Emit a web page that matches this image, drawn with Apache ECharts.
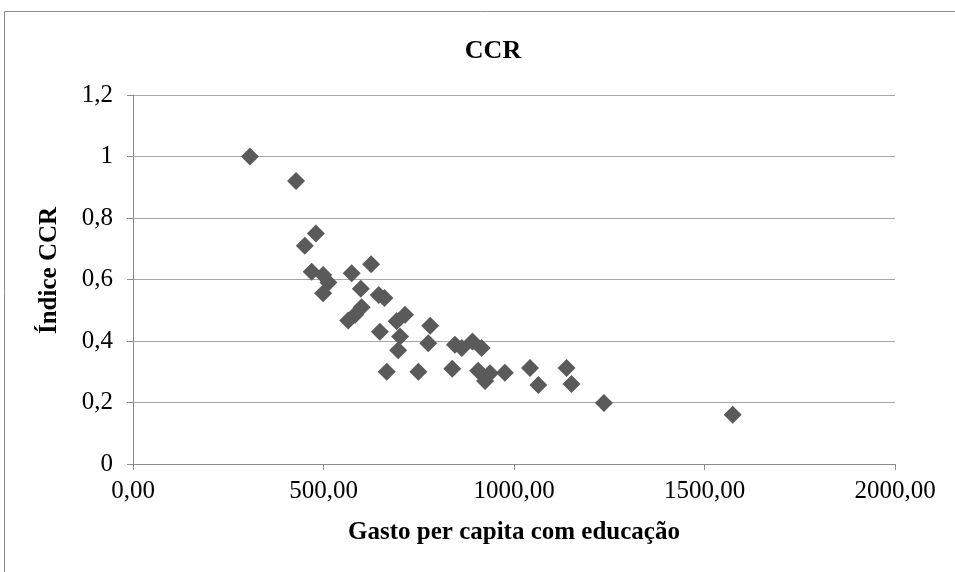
<!DOCTYPE html>
<html>
<head>
<meta charset="utf-8">
<script src="https://cdn.jsdelivr.net/npm/echarts@6/dist/echarts.min.js"></script>
<style>
  html, body { margin: 0; padding: 0; background: #fff; }
  #main { width: 955px; height: 572px; }
</style>
</head>
<body>
<div id="main"></div>
<script>
// gasto per capita com educação (x) e índice CCR (y)
const gasto = [
  307, 428, 480, 451, 469, 499, 513, 499, 574, 625,
  598, 645, 660, 600, 583, 565, 714, 692, 648, 701,
  696, 780, 775, 666, 749, 845, 863, 891, 915, 838,
  906, 924, 937, 976, 1042, 1064, 1138, 1151, 1236, 1574
];
const indiceCCR = [
  1.00, 0.92, 0.75, 0.71, 0.625, 0.615, 0.59, 0.555, 0.62, 0.65,
  0.57, 0.55, 0.54, 0.51, 0.485, 0.467, 0.485, 0.464, 0.43, 0.415,
  0.37, 0.45, 0.393, 0.30, 0.30, 0.388, 0.377, 0.398, 0.377, 0.31,
  0.303, 0.27, 0.295, 0.297, 0.312, 0.257, 0.312, 0.26, 0.198, 0.16
];

const pontos = gasto.map((g, i) => [g, indiceCCR[i]]);

const serif = "Liberation Serif, Times New Roman, serif";

const chart = echarts.init(document.getElementById("main"));

const option = {
  animation: false,
  backgroundColor: "#ffffff",
  title: {
    text: "CCR",
    left: 488,
    top: 33,
    textAlign: "center",
    textStyle: { fontFamily: serif, fontWeight: "bold", fontSize: 26, color: "#000" },
  },
  graphic: [
    {
      type: "rect",
      shape: { x: 4.5, y: 11.5, width: 1000, height: 700 },
      style: { fill: "none", stroke: "#8c8c8c", lineWidth: 1 },
      silent: true,
    },
  ],
  grid: { left: 133, right: 60, top: 95, bottom: 108 },
  xAxis: {
    type: "value",
    min: 0,
    max: 2000,
    interval: 500,
    name: "Gasto per capita com educação",
    nameLocation: "middle",
    nameGap: 56,
    nameTextStyle: { fontFamily: serif, fontWeight: "bold", fontSize: 25, color: "#000" },
    axisLine: { show: true, lineStyle: { color: "#8c8c8c" } },
    axisTick: { show: true, inside: false, length: 6, lineStyle: { color: "#8c8c8c" } },
    splitLine: { show: false },
    axisLabel: {
      fontFamily: serif,
      fontSize: 25,
      color: "#000",
      margin: 15,
      formatter: (v) => v.toFixed(2).replace(".", ","),
    },
  },
  yAxis: {
    type: "value",
    min: 0,
    max: 1.2,
    interval: 0.2,
    name: "Índice CCR",
    nameLocation: "middle",
    nameGap: 71,
    nameRotate: 90,
    nameTextStyle: {
      fontFamily: serif, fontWeight: "bold", fontSize: 25, color: "#000",
      padding: [0, 0, 0, 18],
    },
    axisLine: { show: true, lineStyle: { color: "#8c8c8c" } },
    axisTick: { show: true, inside: false, length: 6, lineStyle: { color: "#8c8c8c" } },
    splitLine: { show: true, lineStyle: { color: "#a6a6a6", width: 1 } },
    axisLabel: {
      fontFamily: serif,
      fontSize: 25,
      color: "#000",
      margin: 20,
      formatter: (v) => String(Math.round(v * 10) / 10).replace(".", ","),
    },
  },
  series: [
    {
      name: "CCR",
      type: "scatter",
      symbol: "diamond",
      symbolSize: 18,
      itemStyle: { color: "#5a5a5a", opacity: 1 },
      data: pontos,
    },
  ],
};

chart.setOption(option);
</script>
</body>
</html>
